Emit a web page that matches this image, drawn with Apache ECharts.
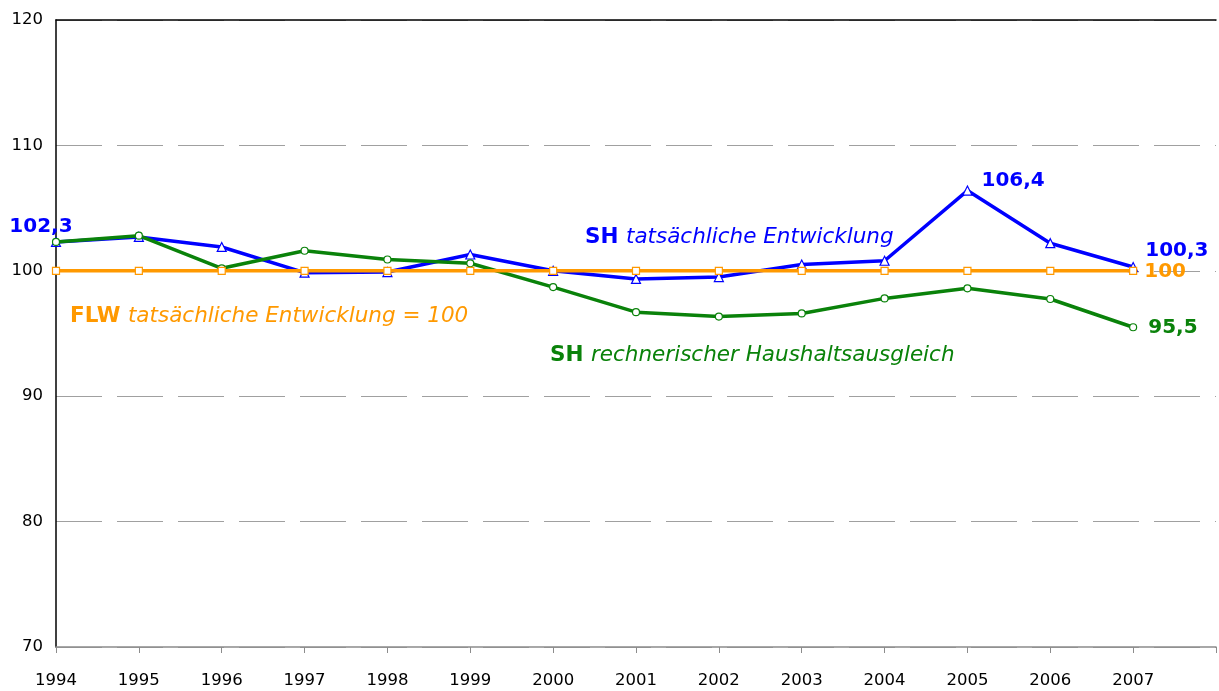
<!DOCTYPE html>
<html>
<head>
<meta charset="utf-8">
<style>
  html, body { margin: 0; padding: 0; background: #fff; }
  #main { width: 1219px; height: 691px; }
</style>
</head>
<body>
<div id="main"></div>
<script src="https://cdn.jsdelivr.net/npm/echarts@6/dist/echarts.min.js"></script>
<script type="text/javascript">

    // Jahre
    var years = [1994, 1995, 1996, 1997, 1998, 1999, 2000, 2001, 2002, 2003, 2004, 2005, 2006, 2007];
    // SH tatsächliche Entwicklung
    var shIst = [102.3, 102.7, 101.9, 99.85, 99.9, 101.3, 100.0, 99.35, 99.5, 100.5, 100.8, 106.4, 102.2, 100.3];
    // SH rechnerischer Haushaltsausgleich
    var shRech = [102.3, 102.8, 100.2, 101.6, 100.9, 100.6, 98.7, 96.7, 96.35, 96.6, 97.8, 98.6, 97.75, 95.5];
    // FLW tatsächliche Entwicklung = 100
    var flw = [100, 100, 100, 100, 100, 100, 100, 100, 100, 100, 100, 100, 100, 100];
    var yTicks = [70, 80, 90, 100, 110, 120];

    var font = 'DejaVu Sans';
    var blue = '#0000ff', green = '#0a820a', orange = '#ff9900';

    function komma(v) {
        return String(v).replace('.', ',');
    }

    // Punkte bauen, ausgewählte Werte beschriften
    function points(vals, labels) {
        return vals.map(function (v, i) {
            var item = { value: [years[i], v] };
            if (labels[i]) item.label = labels[i];
            return item;
        });
    }

    var valueLabel = function (color, pos, offset) {
        return {
            show: true, position: pos, offset: offset || [0, 0],
            color: color, fontFamily: font, fontWeight: 'bold', fontSize: 20,
            formatter: function (p) { return komma(p.value[1]); }
        };
    };

    var blueLabels = {};
    blueLabels[0] = valueLabel(blue, 'top', [-15, 5]);
    blueLabels[11] = valueLabel(blue, 'right', [4, -10]);
    blueLabels[13] = valueLabel(blue, 'right', [2, -16]);
    var greenLabels = {};
    greenLabels[13] = valueLabel(green, 'right', [6, 1]);
    var orangeLabels = {};
    orangeLabels[13] = valueLabel(orange, 'right', [2, 1]);

    // Beschriftung: fetter Kürzel + kursiver Text
    function note(x, y, color, kurz, text) {
        return {
            type: 'text', left: x, top: y,
            style: {
                text: '{b|' + kurz + '}{i|' + text + '}',
                rich: {
                    b: { fill: color, fontFamily: font, fontSize: 21.5, fontWeight: 'bold' },
                    i: { fill: color, fontFamily: font, fontSize: 21.5, fontStyle: 'italic' }
                }
            }
        };
    }

    var myChart = echarts.init(document.getElementById('main'));

    var option = {
        animation: false,
        grid: { left: 56, right: 0, top: 20, bottom: 44 },
        xAxis: [{
            type: 'value', min: 1994, max: 2008, interval: 1,
            axisLine: { lineStyle: { color: '#8c8c8c', width: 1.5 } },
            axisTick: { show: true, inside: false, length: 6, lineStyle: { color: '#8c8c8c' } },
            axisLabel: {
                color: '#000', fontFamily: font, fontSize: 16.5, margin: 25,
                formatter: function (v) { return v === 2008 ? '' : String(v); }
            },
            splitLine: { show: false }
        }, {
            type: 'value', position: 'top', min: 1994, max: 2008,
            axisLine: { show: true, lineStyle: { color: '#000', width: 1.5 } },
            axisTick: { show: false }, axisLabel: { show: false }, splitLine: { show: false }
        }],
        yAxis: {
            type: 'value', min: yTicks[0], max: yTicks[yTicks.length - 1], interval: 10,
            axisLine: { show: true, lineStyle: { color: '#000', width: 1.5 } },
            axisTick: { show: false },
            axisLabel: { color: '#000', fontFamily: font, fontSize: 16.5, margin: 13 },
            splitLine: { lineStyle: { color: '#a0a0a0', width: 1, type: [46, 15] } }
        },
        series: [{
            name: 'SH tatsächliche Entwicklung', type: 'line',
            data: points(shIst, blueLabels),
            symbol: 'triangle', symbolSize: 9, showAllSymbol: true,
            lineStyle: { color: blue, width: 3.5 },
            itemStyle: { color: '#fff', borderColor: blue, borderWidth: 1.2 },
            z: 2
        }, {
            name: 'SH rechnerischer Haushaltsausgleich', type: 'line',
            data: points(shRech, greenLabels),
            symbol: 'circle', symbolSize: 7, showAllSymbol: true,
            lineStyle: { color: green, width: 3.5 },
            itemStyle: { color: '#fff', borderColor: green, borderWidth: 1.2 },
            z: 3
        }, {
            name: 'FLW tatsächliche Entwicklung = 100', type: 'line',
            data: points(flw, orangeLabels),
            symbol: 'rect', symbolSize: 7, showAllSymbol: true,
            lineStyle: { color: orange, width: 3.5 },
            itemStyle: { color: '#fff', borderColor: orange, borderWidth: 1.2 },
            z: 4
        }],
        graphic: [
            note(585, 226, blue, 'SH ', 'tatsächliche Entwicklung'),
            note(70, 305, orange, 'FLW ', 'tatsächliche Entwicklung = 100'),
            note(550, 344, green, 'SH ', 'rechnerischer Haushaltsausgleich')
        ]
    };

    myChart.setOption(option);
</script>
</body>
</html>
